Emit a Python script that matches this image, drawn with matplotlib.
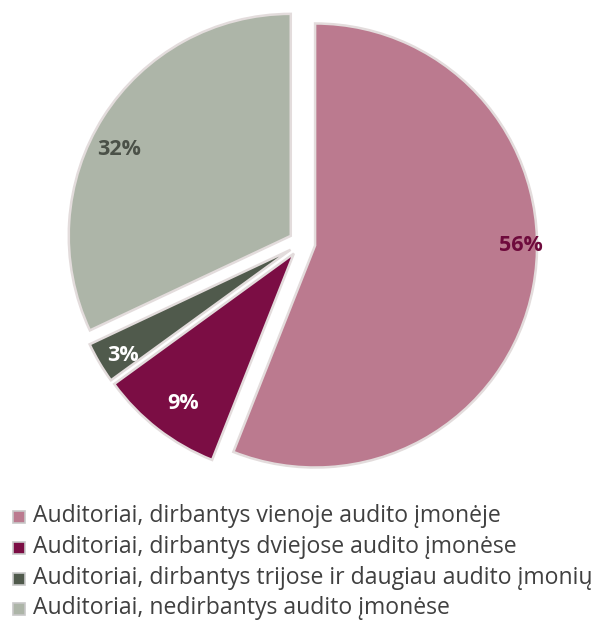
import matplotlib
matplotlib.use("Agg")
import matplotlib.pyplot as plt
from matplotlib.patches import Rectangle
import numpy as np

labels = [
    "Auditoriai, dirbantys vienoje audito įmonėje",
    "Auditoriai, dirbantys dviejose audito įmonėse",
    "Auditoriai, dirbantys trijose ir daugiau audito įmonių",
    "Auditoriai, nedirbantys audito įmonėse",
]
values = [56, 9, 3, 32]
pct_text = ["56%", "9%", "3%", "32%"]
colors = ["#BB7A8F", "#7B0D44", "#505A4C", "#ADB5A8"]
label_colors = ["#6E0A3C", "#FFFFFF", "#FFFFFF", "#4B5148"]

W, H = 605, 644
fig = plt.figure(figsize=(W / 100, H / 100), dpi=100)

R_px = 222
cx, cy = 302, 243
half = 1.12
ax_w = 2 * half * R_px
ax = fig.add_axes([(cx - half * R_px) / W, (H - cy - half * R_px) / H, ax_w / W, ax_w / H])

wedges, _ = ax.pie(
    values,
    colors=colors,
    startangle=90,
    counterclock=False,
    explode=[0.06, 0.06, 0.06, 0.06],
    wedgeprops=dict(edgecolor="#e3dcdc", linewidth=1.8),
)
ax.set_xlim(-half, half)
ax.set_ylim(-half, half)
ax.set_aspect("auto")
ax.axis("off")

# label positions in data units (relative to pie centre)
label_xy = [(0.985, -0.01), (-0.535, -0.725), (-0.805, -0.505), (-0.825, 0.42)]
for t, (x, y), c in zip(pct_text, label_xy, label_colors):
    ax.text(x, y, t, ha="center", va="center", fontsize=15.5, fontweight="bold",
            color=c, family="Open Sans")

# legend
row_y = [517, 548, 579, 609]
for lab, col, y in zip(labels, colors, row_y):
    fig.add_artist(Rectangle((13 / W, 1 - (y + 6) / H), 12 / W, 12 / H,
                             transform=fig.transFigure, facecolor=col,
                             edgecolor="#c8c8c8", linewidth=1.2))
    fig.text(33 / W, 1 - (y - 1) / H, lab, ha="left", va="center", fontsize=16.6,
             color="#404040", family="Open Sans")

fig.savefig("out.png", dpi=100)
